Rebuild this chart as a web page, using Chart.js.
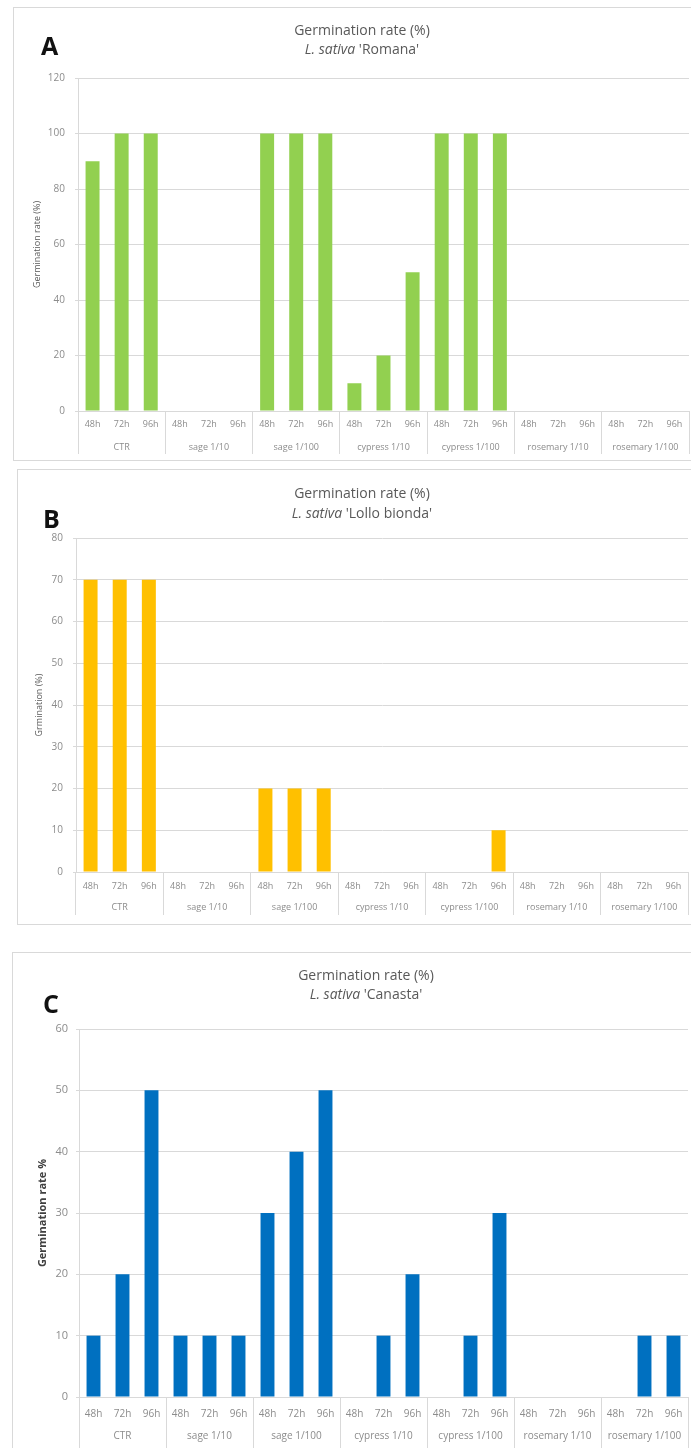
<!DOCTYPE html>
<html><head><meta charset="utf-8">
<script src="https://cdn.jsdelivr.net/npm/chart.js@4.4.1/dist/chart.umd.min.js"></script>
<style>
body{margin:0;width:691px;height:1448px;overflow:hidden;background:#fff;position:relative;font-family:"Open Sans",sans-serif;}
.panel{position:absolute;border:1px solid #d9d9d9;box-sizing:border-box;}
.panel canvas{position:absolute;left:0;top:0;}
.t{position:absolute;width:400px;text-align:center;color:#595959;font-size:14px;line-height:20px;white-space:nowrap;}
.L{position:absolute;font-weight:bold;font-size:25px;color:#111;line-height:30px;}
</style></head>
<body>
<div class="panel" style="left:13px;top:7px;width:700px;height:454px;"><canvas id="cA" width="698" height="452"></canvas></div>
<div class="panel" style="left:17px;top:469px;width:700px;height:456px;"><canvas id="cB" width="698" height="454"></canvas></div>
<div class="panel" style="left:12px;top:952px;width:700px;height:502px;"><canvas id="cC" width="698" height="500"></canvas></div>

<div class="t" style="left:162px;top:20px;">Germination rate (%)</div>
<div class="t" style="left:162px;top:39px;"><i>L. sativa</i> &#39;Romana&#39;</div>
<div class="L" style="left:41px;top:30px;">A</div>

<div class="t" style="left:162px;top:483px;">Germination rate (%)</div>
<div class="t" style="left:162px;top:503px;"><i>L. sativa</i> &#39;Lollo bionda&#39;</div>
<div class="L" style="left:43px;top:503px;">B</div>

<div class="t" style="left:166px;top:965px;">Germination rate (%)</div>
<div class="t" style="left:166px;top:984px;"><i>L. sativa</i> &#39;Canasta&#39;</div>
<div class="L" style="left:43px;top:988px;">C</div>

<script>
const groups = ['CTR','sage 1/10','sage 1/100','cypress 1/10','cypress 1/100','rosemary 1/10','rosemary 1/100'];
const hourLabels = ['48h','72h','96h','48h','72h','96h','48h','72h','96h','48h','72h','96h','48h','72h','96h','48h','72h','96h','48h','72h','96h'];
const romana =      [90,100,100, 0,0,0, 100,100,100, 10,20,50, 100,100,100, 0,0,0, 0,0,0];
const lolloBionda = [70,70,70,   0,0,0, 20,20,20,    0,0,0,    0,0,10,      0,0,0, 0,0,0];
const canasta =     [10,20,50,   10,10,10, 30,40,50, 0,10,20,  0,10,30,     0,0,0, 0,10,10];

const FAM = '"Open Sans", sans-serif';
const GRID = '#d9d9d9';
const TICK = '#8c8c8c';
const sepColor = ctx => (ctx.index === undefined || ctx.index % 3 === 0) ? GRID : 'rgba(0,0,0,0)';

function build(id, values, color, c) {
  new Chart(document.getElementById(id), {
    type: 'bar',
    data: { labels: hourLabels, datasets: [{ data: values, backgroundColor: color, borderWidth: 0,
      barPercentage: 0.48, categoryPercentage: 1, xAxisID: 'x', yAxisID: 'y' }] },
    options: {
      responsive: false, animation: false, events: [],
      layout: { padding: { left: 0, right: c.padR, top: c.padT, bottom: c.padB } },
      plugins: { legend: { display: false }, tooltip: { enabled: false }, title: { display: false } },
      scales: {
        x: { type: 'category', position: 'bottom', weight: 0, offset: true,
          grid: { offset: true, drawOnChartArea: false, drawTicks: true, tickLength: c.tl, color: sepColor, tickColor: sepColor, lineWidth: 1 },
          border: { display: true, color: GRID },
          ticks: { autoSkip: false, maxRotation: 0, minRotation: 0, padding: c.hPad, color: TICK, font: { family: FAM, size: c.xFont } },
          afterFit: s => { s.height = c.xH; } },
        x2: { type: 'category', labels: groups, position: 'bottom', weight: 1, offset: true,
          grid: { display: false, drawTicks: false }, border: { display: false },
          ticks: { autoSkip: false, maxRotation: 0, minRotation: 0, padding: c.gPad, color: TICK, font: { family: FAM, size: c.xFont } },
          afterFit: s => { s.height = c.x2H; } },
        y: { min: 0, max: c.max,
          ticks: { stepSize: c.step, padding: c.yPad, color: TICK, font: { family: FAM, size: c.yFont } },
          grid: { color: GRID, tickLength: 3 },
          border: { display: true, color: GRID },
          title: { display: true, text: c.yTitle, color: c.yTitleColor, font: { family: FAM, size: c.yTitleSize, weight: c.yTitleWeight }, padding: { top: c.yTitlePad, bottom: 0 } },
          afterFit: s => { s.width = c.yW; } }
      }
    }
  });
}

build('cA', romana, '#92D050', { padR: 23, padT: 70, padB: 2, tl: 43, hPad: -35, xH: 23, x2H: 24, gPad: 8, xFont: 9,
  max: 120, step: 20, yPad: 10, yFont: 10, yW: 64, yTitle: 'Germination rate (%)', yTitleColor: '#595959', yTitleSize: 9, yTitleWeight: 'normal', yTitlePad: 18 });
build('cB', lolloBionda, '#FFC000', { padR: 28, padT: 68, padB: 2, tl: 43, hPad: -34, xH: 22, x2H: 28, gPad: 8, xFont: 9,
  max: 80, step: 10, yPad: 10, yFont: 10, yW: 58, yTitle: 'Grmination (%)', yTitleColor: '#595959', yTitleSize: 9, yTitleWeight: 'normal', yTitlePad: 16 });
build('cC', canasta, '#0070C0', { padR: 23, padT: 76, padB: 2, tl: 56, hPad: -45, xH: 25, x2H: 29, gPad: 8, xFont: 10,
  max: 60, step: 10, yPad: 8, yFont: 11, yW: 66, yTitle: 'Germination rate %', yTitleColor: '#404040', yTitleSize: 11, yTitleWeight: 'bold', yTitlePad: 23 });
</script>
</body></html>
